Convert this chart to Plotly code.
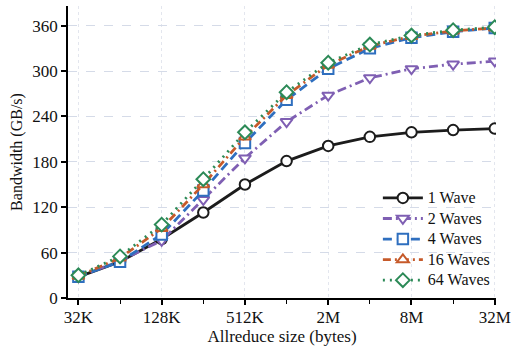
import math
import plotly.graph_objects as go

# Allreduce sizes (bytes)
sizes_kb = [32, 64, 128, 256, 512, 1024, 2048, 4096, 8192, 16384, 32768]
series_names = ["1 Wave", "2 Waves", "4 Waves", "16 Waves", "64 Waves"]
wave1 = [28, 48, 78, 113, 150, 181, 201, 213, 219, 222, 224]
wave2 = [28, 49, 76, 130, 185, 233, 268, 291, 303, 309, 313]
wave4 = [28, 48, 84, 142, 205, 262, 303, 330, 344, 352, 357]
wave16 = [29, 53, 92, 150, 213, 268, 308, 333, 346, 353, 357]
wave64 = [30, 55, 97, 157, 219, 272, 311, 335, 347, 354, 358]
xtick_vals_kb = [32, 128, 512, 2048, 8192, 32768]
xtick_labels = ["32K", "128K", "512K", "2M", "8M", "32M"]
ytick_vals = [0, 60, 120, 180, 240, 300, 360]

x = [math.log2(s * 1024) for s in sizes_kb]
xt = [math.log2(s * 1024) for s in xtick_vals_kb]

colors = ["#1c1c1c", "#7f5fb3", "#2f6fbf", "#c65a2a", "#2c8a57"]
symbols = ["circle", "triangle-down", "square", "triangle-up", "diamond"]
dashes = ["solid", "9px,4px,2px,4px", "9px,5px", "8px,4px,2px,4px", "2px,5px"]
data = [wave1, wave2, wave4, wave16, wave64]

fig = go.Figure()
for name, ys, c, sym, d in zip(series_names, data, colors, symbols, dashes):
    fig.add_trace(go.Scatter(
        x=x, y=ys, name="<span style='font-size:16px'>" + name + "</span>",
        mode="lines+markers",
        line=dict(color=c, width=2.8, dash=d),
        marker=dict(symbol=sym, size=10.5, color="white",
                    line=dict(color=c, width=2)),
    ))

font = "Liberation Serif"
fig.update_layout(
    width=511, height=350,
    margin=dict(l=68, r=15, t=6, b=52),
    plot_bgcolor="white", paper_bgcolor="white",
    font=dict(family=font, size=17, color="#111"),
    showlegend=True,
    legend=dict(x=0.724, y=0.395, xanchor="left", yanchor="top",
                bgcolor="rgba(255,255,255,0)", font=dict(size=13.5, family=font),
                tracegroupgap=0, itemwidth=40),
    xaxis=dict(
        automargin=False,
        range=[x[0] - 0.25, x[-1] + 0.03],
        tickmode="array", tickvals=xt, ticktext=xtick_labels,
        showline=True, linecolor="black", linewidth=1.5,
        ticks="outside", ticklen=5, tickwidth=1.5, tickcolor="black",
        ticklabelstandoff=-2,
        showgrid=True, gridcolor="#e3e6ee", griddash="dot", gridwidth=1,
        zeroline=False,
        minor=dict(tickmode="array", tickvals=[x[i] for i in range(1, 11, 2)],
                   ticks="outside", ticklen=4, tickwidth=1.2, tickcolor="black",
                   showgrid=False),
        title=dict(text="Allreduce size (bytes)", font=dict(size=17, family=font), standoff=4),
        tickfont=dict(size=17, family=font),
    ),
    yaxis=dict(
        automargin=False,
        range=[0, 386],
        tickmode="array", tickvals=ytick_vals,
        showline=True, linecolor="black", linewidth=1.5,
        ticks="outside", ticklen=5, tickwidth=1.5, tickcolor="black",
        showgrid=True, gridcolor="#d5dbe8", griddash="dash", gridwidth=1,
        zeroline=False,
        title=dict(text="Bandwidth (GB/s)", font=dict(size=16, family=font), standoff=6),
        tickfont=dict(size=17, family=font),
    ),
)

fig.write_html("out.html")
